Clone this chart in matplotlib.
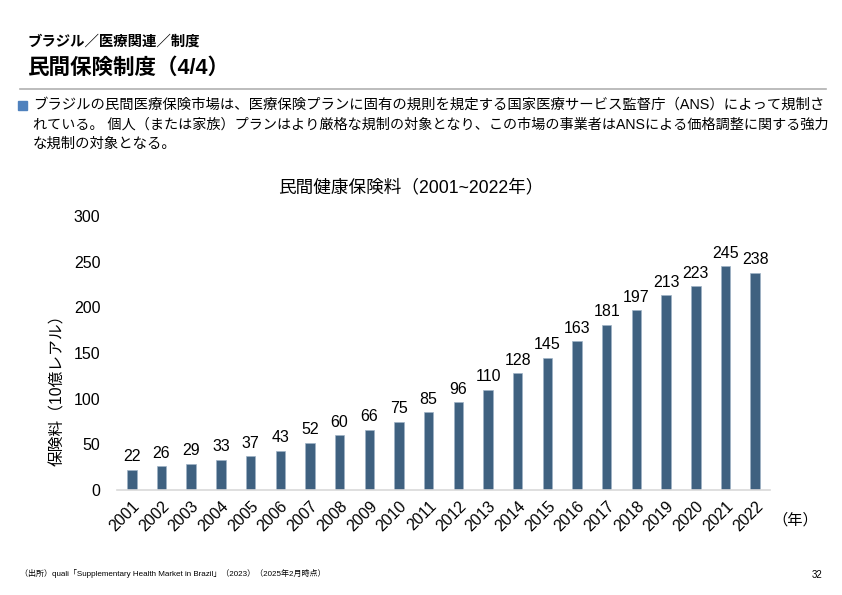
import matplotlib
matplotlib.use("Agg")
import matplotlib.pyplot as plt
from matplotlib.patches import Rectangle

plt.rcParams['font.family'] = ['Liberation Sans', 'Noto Sans CJK JP', 'DejaVu Sans']

years = [str(y) for y in range(2001, 2023)]
premiums = [22, 26, 29, 33, 37, 43, 52, 60, 66, 75, 85, 96, 110, 128,
            145, 163, 181, 197, 213, 223, 245, 238]
yticks = [0, 50, 100, 150, 200, 250, 300]

W, H = 842, 595
BAR = "#3F6180"

fig = plt.figure(figsize=(W / 100, H / 100), dpi=100)


def px(x, y):
    return x / W, 1 - y / H


# header
fig.text(*px(27, 42), "ブラジル／医療関連／制度", fontsize=10.4, fontweight="bold", va="center")
fig.text(*px(27, 68), "民間保険制度（4/4）", fontsize=15.5, fontweight="bold", va="center")
fig.add_artist(plt.Line2D([20 / W, 826 / W], [1 - 88.5 / H] * 2, color="#b0b0b0", lw=1.2))

# bullet text
fig.add_artist(Rectangle(px(18, 110), 9 / W, 9 / H, color="#4F81BD", transform=fig.transFigure))
body = ["ブラジルの民間医療保険市場は、医療保険プランに固有の規則を規定する国家医療サービス監督庁（ANS）によって規制さ",
        "れている。 個人（または家族）プランはより厳格な規制の対象となり、この市場の事業者はANSによる価格調整に関する強力",
        "な規制の対象となる。"]
body_sizes = [10.35, 10.15, 10.35]
for i, (line, fs) in enumerate(zip(body, body_sizes)):
    fig.text(*px(33, 105 + i * 19.5), line, fontsize=fs, va="center")

# chart
ax = fig.add_axes([117 / W, (H - 490) / H, (770 - 117) / W, (490 - 216) / H])
x = list(range(len(years)))
ax.bar(x, premiums, width=0.32, color=BAR, edgecolor="#9fb3c6", linewidth=0.5)
for xi, v in zip(x, premiums):
    ax.text(xi, v + 6, str(v), ha="center", va="bottom", fontsize=11.5)
ax.set_xlim(-0.5, 21.5)
ax.set_ylim(0, 300)
ax.set_yticks(yticks)
ax.set_yticklabels([str(t) for t in yticks], fontsize=11.5)
ax.set_xticks(x)
ax.set_xticklabels(years, rotation=45, ha="right", rotation_mode="anchor", fontsize=11.5)
ax.tick_params(length=0, pad=6)
ax.tick_params(axis="y", pad=12)
for s in ["top", "right", "left"]:
    ax.spines[s].set_visible(False)
ax.spines["bottom"].set_color("#d9d9d9")
ax.spines["bottom"].set_linewidth(1.2)

fig.text(*px(411, 188), "民間健康保険料（2001~2022年）", fontsize=12.7, ha="center", va="center")
fig.text(*px(58, 386), "保険料（10億レアル）", fontsize=11.3, rotation=90, ha="center", va="center")
fig.text(*px(795, 520), "（年）", fontsize=11, ha="center", va="center")

# footer
fig.text(*px(20, 573), "（出所）quali「Supplementary Health Market in Brazil」（2023）（2025年2月時点）",
         fontsize=5.8, va="center")
fig.text(*px(822, 575), "32", fontsize=7, ha="right", va="center")

fig.savefig("out.png", dpi=100)
